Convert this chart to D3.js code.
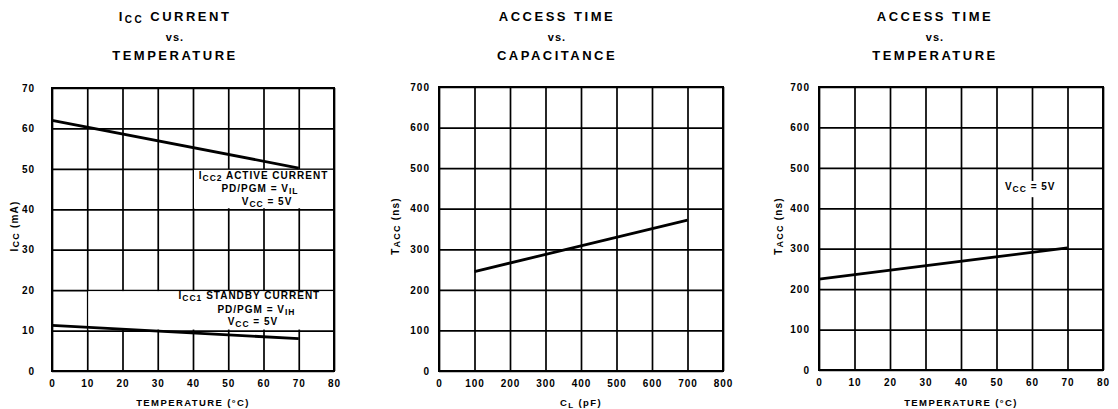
<!DOCTYPE html>
<html>
<head>
<meta charset="utf-8">
<script src="https://cdn.jsdelivr.net/npm/d3@7"></script>
<style>
  html, body { margin: 0; padding: 0; background: #fff; }
  svg { display: block; }
  text { font-family: "Liberation Sans", Arial, sans-serif; font-weight: bold; fill: #000; }
</style>
</head>
<body>
<svg id="chart" width="1118" height="409"></svg>
<script>
// ---------- data ----------
const tempTicks = [0, 10, 20, 30, 40, 50, 60, 70, 80];
const iccTicks = [0, 10, 20, 30, 40, 50, 60, 70];
const capTicks = [0, 100, 200, 300, 400, 500, 600, 700, 800];
const taccTicks = [0, 100, 200, 300, 400, 500, 600, 700];

const iccTemps = [0, 70];
const activeCurrent = [62, 50.2];
const standbyCurrent = [11.3, 8];

const capLoads = [100, 700];
const accessVsCap = [245, 372];

const accessTemps = [0, 70];
const accessVsTemp = [225, 302];

// ---------- helpers ----------
const svg = d3.select("#chart");

function rich(textSel, parts, subSize, subDy) {
  let shifted = false;
  parts.forEach(([t, sub]) => {
    const ts = textSel.append("tspan").text(t);
    if (sub && !shifted) { ts.attr("dy", subDy).attr("font-size", subSize); shifted = true; }
    else if (sub) { ts.attr("font-size", subSize); }
    else if (!sub && shifted) { ts.attr("dy", -subDy); shifted = false; }
  });
  return textSel;
}

function panel(cfg) {
  const g = svg.append("g");
  const x = d3.scaleLinear().domain(cfg.xDomain).range([cfg.left, cfg.right]);
  const y = d3.scaleLinear().domain(cfg.yDomain).range([cfg.bottom, cfg.top]);
  const w = cfg.right - cfg.left, h = cfg.bottom - cfg.top;

  const xa = g.append("g").attr("transform", `translate(0,${cfg.bottom})`)
    .call(d3.axisBottom(x).tickValues(cfg.xTicks).tickSize(-h).tickPadding(9).tickFormat(d3.format("d")));
  const ya = g.append("g").attr("transform", `translate(${cfg.left},0)`)
    .call(d3.axisLeft(y).tickValues(cfg.yTicks).tickSize(-w).tickPadding(cfg.yPad).tickFormat(d3.format("d")));
  [xa, ya].forEach(a => {
    a.select(".domain").remove();
    a.selectAll(".tick line").attr("stroke", "#000").attr("stroke-width", 1.7);
    a.selectAll(".tick text").attr("font-size", 10).attr("font-family", "Liberation Sans, Arial, sans-serif")
      .attr("font-weight", "bold").attr("fill", "#000").style("letter-spacing", "1px");
  });

  (cfg.boxes || []).forEach(b => {
    g.append("rect")
      .attr("x", x(b.x0) + 1).attr("y", y(b.y1) + 1)
      .attr("width", x(b.x1) - x(b.x0) - 2).attr("height", y(b.y0) - y(b.y1) - 2)
      .attr("fill", "#fff");
  });

  g.append("rect").attr("x", cfg.left).attr("y", cfg.top).attr("width", w).attr("height", h)
    .attr("fill", "none").attr("stroke", "#000").attr("stroke-width", 2);

  const line = d3.line().x(d => x(d[0])).y(d => y(d[1]));
  cfg.series.forEach(s => {
    g.append("path").datum(s.xs.map((v, i) => [v, s.ys[i]]))
      .attr("d", line).attr("fill", "none").attr("stroke", "#000").attr("stroke-width", 2.8);
  });

  (cfg.notes || []).forEach(n => {
    const t = g.append("text").attr("x", x(n.x)).attr("y", y(n.y) + (n.dy || 0))
      .attr("text-anchor", "middle").attr("font-size", 10).style("letter-spacing", "1px");
    rich(t, n.parts, 8.5, 2);
  });

  cfg.title.forEach((ln, i) => {
    const t = g.append("text").attr("x", cfg.titleX).attr("y", [21, 41, 60][i])
      .attr("text-anchor", "middle")
      .attr("font-size", i === 1 ? 11 : 13)
      .style("letter-spacing", i === 1 ? "1px" : "2.5px");
    rich(t, ln, 10, 2);
  });

  const xt = g.append("text").attr("x", (cfg.left + cfg.right) / 2).attr("y", 406)
    .attr("text-anchor", "middle").attr("font-size", 9.5).style("letter-spacing", "1.4px");
  rich(xt, cfg.xTitle, 8, 2);

  const yt = g.append("text").attr("transform", `translate(${cfg.yTitleX},226) rotate(-90)`)
    .attr("text-anchor", "middle").attr("font-size", 10).style("letter-spacing", "1.2px");
  rich(yt, cfg.yTitle, 9, 1);
}

panel({
  left: 52, right: 334, top: 88, bottom: 371,
  xDomain: [0, 80], yDomain: [0, 70], xTicks: tempTicks, yTicks: iccTicks, yPad: 17,
  title: [[["I", false], ["CC", true], [" CURRENT", false]], [["vs.", false]], [["TEMPERATURE", false]]],
  titleX: 175,
  xTitle: [["TEMPERATURE (°C)", false]],
  yTitle: [["I", false], ["CC", true], ["  (mA)", false]], yTitleX: 18,
  boxes: [{x0: 40, x1: 80, y0: 40, y1: 50}, {x0: 10, x1: 80, y0: 10, y1: 20}],
  series: [{xs: iccTemps, ys: activeCurrent}, {xs: iccTemps, ys: standbyCurrent}],
  notes: [
    {x: 60, y: 50, dy: 10, parts: [["I", false], ["CC2", true], [" ACTIVE CURRENT", false]]},
    {x: 59, y: 50, dy: 23, parts: [["PD/PGM = V", false], ["IL", true]]},
    {x: 61, y: 50, dy: 36, parts: [["V", false], ["CC", true], [" = 5V", false]]},
    {x: 56, y: 20, dy: 9, parts: [["I", false], ["CC1", true], [" STANDBY CURRENT", false]]},
    {x: 58, y: 20, dy: 23, parts: [["PD/PGM = V", false], ["IH", true]]},
    {x: 57, y: 20, dy: 35, parts: [["V", false], ["CC", true], [" = 5V", false]]}
  ]
});

panel({
  left: 439, right: 723, top: 87, bottom: 371,
  xDomain: [0, 800], yDomain: [0, 700], xTicks: capTicks, yTicks: taccTicks, yPad: 9,
  title: [[["ACCESS TIME", false]], [["vs.", false]], [["CAPACITANCE", false]]],
  titleX: 557,
  xTitle: [["C", false], ["L", true], [" (pF)", false]],
  yTitle: [["T", false], ["ACC", true], [" (ns)", false]], yTitleX: 399,
  series: [{xs: capLoads, ys: accessVsCap}]
});

panel({
  left: 819, right: 1103, top: 87, bottom: 370,
  xDomain: [0, 80], yDomain: [0, 700], xTicks: tempTicks, yTicks: taccTicks, yPad: 9,
  title: [[["ACCESS TIME", false]], [["vs.", false]], [["TEMPERATURE", false]]],
  titleX: 935,
  xTitle: [["TEMPERATURE (°C)", false]],
  yTitle: [["T", false], ["ACC", true], [" (ns)", false]], yTitleX: 782,
  boxes: [{x0: 53, x1: 68, y0: 425, y1: 470}],
  series: [{xs: accessTemps, ys: accessVsTemp}],
  notes: [
    {x: 59.5, y: 445, dy: 0, parts: [["V", false], ["CC", true], [" = 5V", false]]}
  ]
});
</script>
</body>
</html>
